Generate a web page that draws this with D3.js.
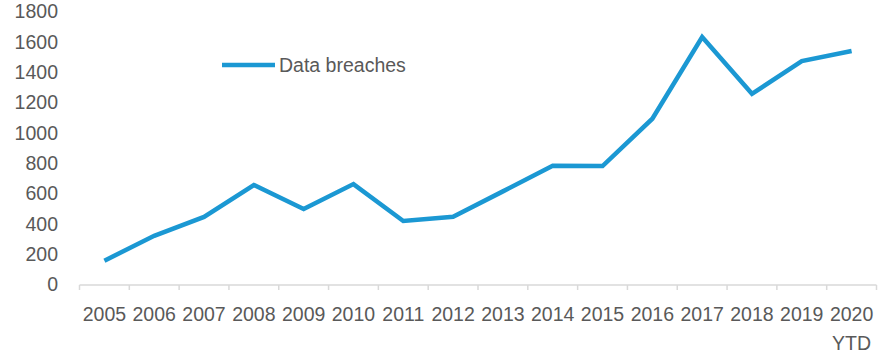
<!DOCTYPE html>
<html><head><meta charset="utf-8">
<script src="https://cdn.jsdelivr.net/npm/d3@7"></script>
<style>body{margin:0;background:#fff}svg{display:block}</style>
</head><body>
<script>
const years = ["2005","2006","2007","2008","2009","2010","2011","2012","2013","2014","2015","2016","2017","2018","2019","2020\nYTD"];
const breaches = [157,321,446,656,498,662,419,447,614,783,781,1093,1632,1257,1473,1540];
const yTicks = [0,200,400,600,800,1000,1200,1400,1600,1800];
const seriesName = "Data breaches";

const W=884,H=354;
const svg=d3.select("body").append("svg").attr("width",W).attr("height",H);
const x=d3.scaleBand().domain(years).range([79.5,876.5]);
const y=d3.scaleLinear().domain([0,1800]).range([284.5,11.5]);
const font="'Liberation Sans', Arial, sans-serif";
const gray="#595959";

// x axis
const xa=svg.append("g").attr("transform","translate(0,285)");
xa.append("line").attr("x1",x.range()[0]).attr("x2",x.range()[1]).attr("stroke","#d9d9d9").attr("stroke-width",1.5);
const edges=years.map(d=>x(d)).concat([x.range()[1]]);
xa.selectAll(".tk").data(edges).enter().append("line")
  .attr("x1",d=>d).attr("x2",d=>d).attr("y1",0).attr("y2",5).attr("stroke","#d9d9d9").attr("stroke-width",1.5);
const lbl=xa.selectAll(".lb").data(years).enter().append("text")
  .attr("x",d=>x(d)+x.bandwidth()/2).attr("y",36)
  .attr("text-anchor","middle").attr("fill",gray).attr("font-family",font).attr("font-size",19.5);
lbl.each(function(d){
  const t=d3.select(this);
  d.split("\n").forEach((s,i)=>t.append("tspan").attr("x",x(d)+x.bandwidth()/2).attr("dy",i?29:0).text(s));
});

// y axis labels
svg.selectAll(".yl").data(yTicks).enter().append("text")
  .attr("x",58).attr("y",d=>y(d)).attr("dy","0.35em").attr("text-anchor","end")
  .attr("fill",gray).attr("font-family",font).attr("font-size",19.5).text(d=>d);

// line
const line=d3.line().x((d,i)=>x(years[i])+x.bandwidth()/2).y(d=>y(d));
svg.append("path").datum(breaches).attr("d",line).attr("fill","none")
  .attr("stroke","#1b98d3").attr("stroke-width",4.5).attr("stroke-linejoin","miter");

// legend
svg.append("line").attr("x1",222).attr("x2",275).attr("y1",65).attr("y2",65)
  .attr("stroke","#1b98d3").attr("stroke-width",4.5);
svg.append("text").attr("x",279).attr("y",65).attr("dy","0.35em").attr("fill",gray)
  .attr("font-family",font).attr("font-size",19.5).text(seriesName);
</script>
</body></html>
